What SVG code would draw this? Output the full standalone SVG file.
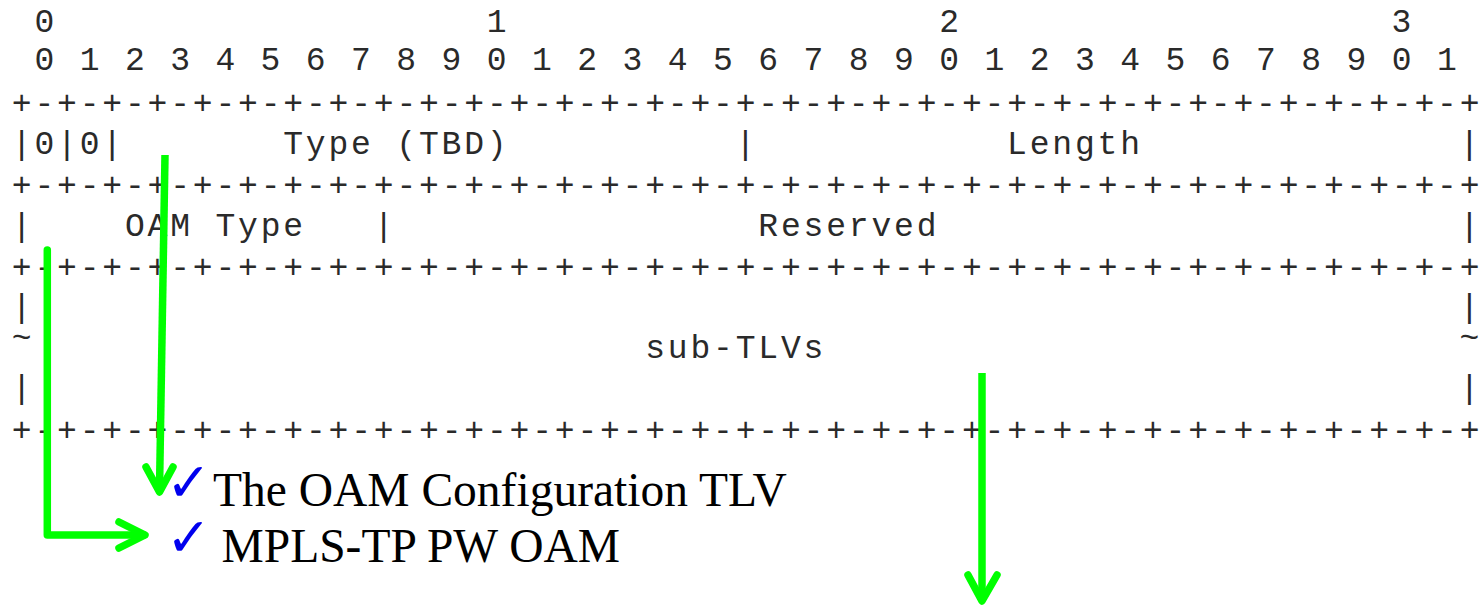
<svg xmlns="http://www.w3.org/2000/svg" width="1482" height="609" viewBox="0 0 1482 609">
<style>
.m{font-family:"Liberation Mono","Courier New",monospace;font-size:33px;letter-spacing:2.82px;fill:#2a2a2a;white-space:pre}
.s{font-family:"Liberation Serif","Times New Roman",serif;font-size:47.5px;fill:#000}
.ck{font-family:"DejaVu Sans",sans-serif;font-size:54px;fill:#0000ee}
.g{fill:none;stroke:#00ff00;stroke-width:7.5}
.gh{fill:none;stroke:#00ff00;stroke-width:7.5;stroke-linecap:round;stroke-linejoin:round}
</style>
<rect width="1482" height="609" fill="#fff"/>
<g id="bit-ruler">
<text class="m" x="34.4" y="32">0</text>
<text class="m" x="486.8" y="32">1</text>
<text class="m" x="939.2" y="32">2</text>
<text class="m" x="1391.6" y="32">3</text>
<text class="m" x="34.4" y="70" xml:space="preserve">0 1 2 3 4 5 6 7 8 9 0 1 2 3 4 5 6 7 8 9 0 1 2 3 4 5 6 7 8 9 0 1</text>
</g>
<g id="border-1"><text class="m" x="11.8" y="114">+-+-+-+-+-+-+-+-+-+-+-+-+-+-+-+-+-+-+-+-+-+-+-+-+-+-+-+-+-+-+-+-+</text></g>
<g id="row-type-length">
<text class="m" x="11.8" y="154">|0|0|</text>
<text class="m" x="283.2" y="154" xml:space="preserve">Type (TBD)</text>
<text class="m" x="735.6" y="154">|</text>
<text class="m" x="1007.1" y="154">Length</text>
<text class="m" x="1459.5" y="154">|</text>
</g>
<g id="border-2"><text class="m" x="11.8" y="196">+-+-+-+-+-+-+-+-+-+-+-+-+-+-+-+-+-+-+-+-+-+-+-+-+-+-+-+-+-+-+-+-+</text></g>
<g id="row-oamtype-reserved">
<text class="m" x="11.8" y="236">|</text>
<text class="m" x="124.9" y="236" xml:space="preserve">OAM Type</text>
<text class="m" x="373.7" y="236">|</text>
<text class="m" x="758.3" y="236">Reserved</text>
<text class="m" x="1459.5" y="236">|</text>
</g>
<g id="border-3"><text class="m" x="11.8" y="278">+-+-+-+-+-+-+-+-+-+-+-+-+-+-+-+-+-+-+-+-+-+-+-+-+-+-+-+-+-+-+-+-+</text></g>
<g id="row-subtlvs">
<text class="m"><tspan x="11.8" y="317">|</tspan><tspan x="11.8" y="348">~</tspan><tspan x="11.8" y="398">|</tspan></text>
<text class="m"><tspan x="1459.5" y="317">|</tspan><tspan x="1459.5" y="348">~</tspan><tspan x="1459.5" y="398">|</tspan></text>
<text class="m" x="645.2" y="358">sub-TLVs</text>
</g>
<g id="border-4"><text class="m" x="11.8" y="441">+-+-+-+-+-+-+-+-+-+-+-+-+-+-+-+-+-+-+-+-+-+-+-+-+-+-+-+-+-+-+-+-+</text></g>
<g id="note-1">
<text class="ck" x="166" y="501">✓</text>
<text class="s" x="213" y="506">The OAM Configuration TLV</text>
</g>
<g id="note-2">
<text class="ck" x="166" y="556">✓</text>
<text class="s" x="221.5" y="561.5">MPLS-TP PW OAM</text>
</g>
<g id="connectors">
<path class="g" d="M165,155 L159.5,490"/>
<path class="gh" d="M146,467 L159.5,492 L173,467"/>
<path class="gh" d="M47.3,250 L47.3,535 L144,535"/>
<path class="gh" d="M119,522 L145,535 L119,548"/>
<path class="g" d="M982,373 L982,598"/>
<path class="gh" d="M968,575 L982,601 L997,575"/>
</g>
</svg>
